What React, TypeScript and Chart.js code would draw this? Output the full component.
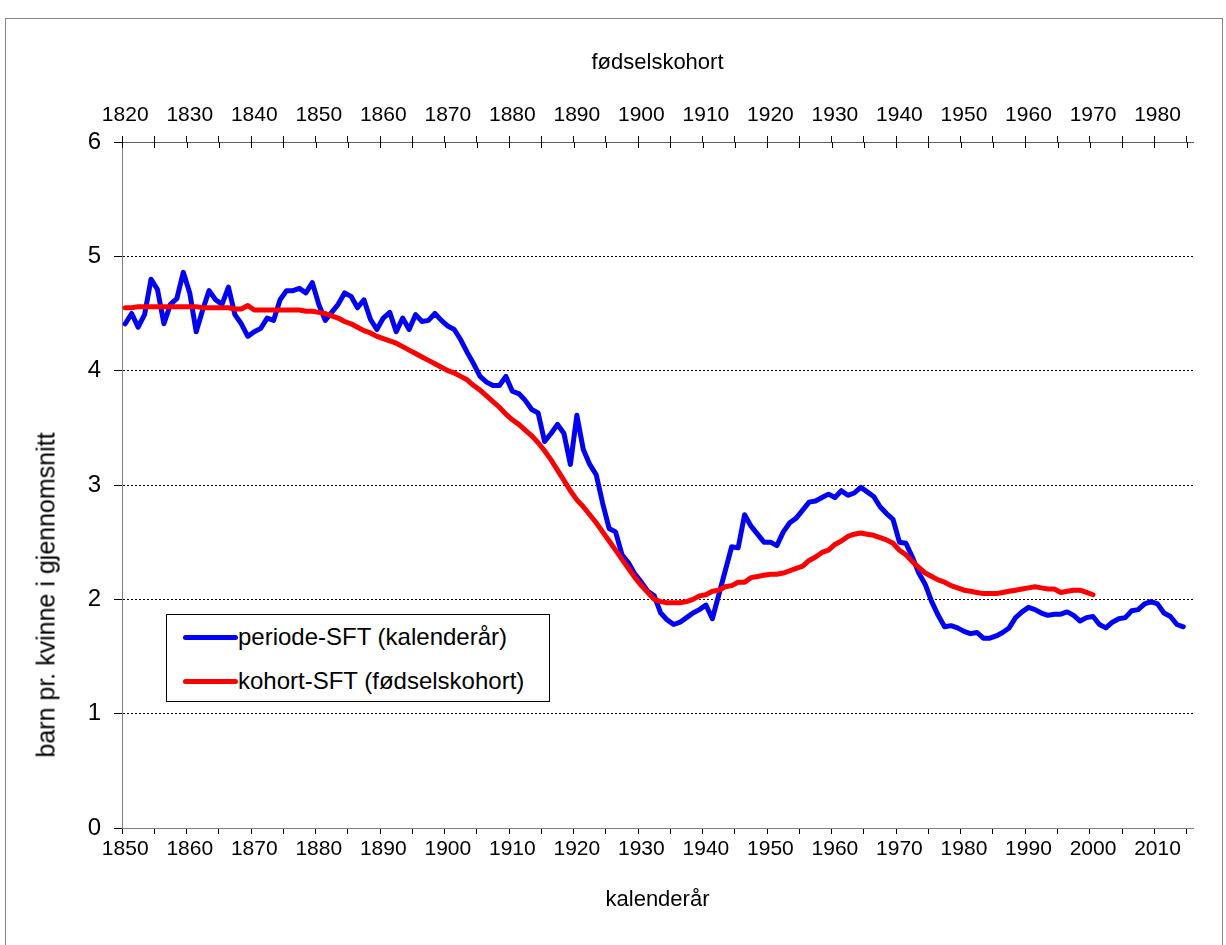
import React, { useEffect, useRef } from "react";
import { Chart, registerables } from "chart.js";

Chart.register(...registerables);

// ---------- data ----------
const FIRST_YEAR = 1850;
const LAST_YEAR = 2015;
const COHORT_OFFSET = 30;

// bottom axis categories (calendar years) and top axis categories (birth cohorts)
const calendarYears: string[] = Array.from(
  { length: LAST_YEAR - FIRST_YEAR + 1 },
  (_, i) => String(FIRST_YEAR + i)
);
const cohortYears: string[] = Array.from(
  { length: LAST_YEAR - FIRST_YEAR + 1 },
  (_, i) => String(FIRST_YEAR - COHORT_OFFSET + i)
);

// periode-SFT, calendar years 1850..2014
const periodTFR: number[] = [
  4.41, 4.5, 4.38, 4.49, 4.8, 4.71, 4.41, 4.58, 4.63, 4.86, // 1850
  4.68, 4.34, 4.53, 4.7, 4.62, 4.58, 4.73, 4.49, 4.41, 4.3, // 1860
  4.34, 4.37, 4.46, 4.44, 4.62, 4.7, 4.7, 4.72, 4.68, 4.77, // 1870
  4.58, 4.44, 4.51, 4.58, 4.68, 4.65, 4.55, 4.62, 4.45, 4.36, // 1880
  4.46, 4.51, 4.34, 4.46, 4.36, 4.49, 4.43, 4.44, 4.5, 4.44, // 1890
  4.39, 4.36, 4.27, 4.16, 4.06, 3.95, 3.9, 3.87, 3.87, 3.95, // 1900
  3.82, 3.8, 3.74, 3.66, 3.63, 3.38, 3.45, 3.53, 3.45, 3.18, // 1910
  3.61, 3.31, 3.18, 3.09, 2.84, 2.62, 2.59, 2.39, 2.32, 2.22, // 1920
  2.15, 2.07, 2.03, 1.88, 1.82, 1.78, 1.8, 1.84, 1.88, 1.91, // 1930
  1.95, 1.83, 2.04, 2.25, 2.46, 2.45, 2.74, 2.64, 2.57, 2.5, // 1940
  2.5, 2.47, 2.59, 2.67, 2.71, 2.78, 2.85, 2.86, 2.89, 2.92, // 1950
  2.89, 2.95, 2.91, 2.93, 2.98, 2.94, 2.9, 2.81, 2.75, 2.7, // 1960
  2.5, 2.49, 2.37, 2.23, 2.13, 1.98, 1.86, 1.76, 1.77, 1.75, // 1970
  1.72, 1.7, 1.71, 1.66, 1.66, 1.68, 1.71, 1.75, 1.84, 1.89, // 1980
  1.93, 1.91, 1.88, 1.86, 1.87, 1.87, 1.89, 1.86, 1.81, 1.84, // 1990
  1.85, 1.78, 1.75, 1.8, 1.83, 1.84, 1.9, 1.91, 1.96, 1.98, // 2000
  1.96, 1.88, 1.85, 1.78, 1.76, // 2010
];

// kohort-SFT, birth cohorts 1820..1970
const cohortTFR: number[] = [
  4.55, 4.55, 4.56, 4.56, 4.56, 4.56, 4.56, 4.56, 4.56, 4.56, // 1820
  4.56, 4.56, 4.55, 4.55, 4.55, 4.55, 4.55, 4.54, 4.54, 4.57, // 1830
  4.53, 4.53, 4.53, 4.53, 4.53, 4.53, 4.53, 4.53, 4.52, 4.52, // 1840
  4.51, 4.5, 4.48, 4.46, 4.43, 4.41, 4.38, 4.35, 4.33, 4.3, // 1850
  4.28, 4.26, 4.24, 4.21, 4.18, 4.15, 4.12, 4.09, 4.06, 4.03, // 1860
  4.0, 3.98, 3.95, 3.92, 3.87, 3.83, 3.78, 3.73, 3.68, 3.62, // 1870
  3.57, 3.53, 3.48, 3.43, 3.37, 3.3, 3.22, 3.13, 3.04, 2.95, // 1880
  2.87, 2.81, 2.74, 2.67, 2.59, 2.51, 2.43, 2.35, 2.27, 2.19, // 1890
  2.12, 2.06, 2.0, 1.98, 1.97, 1.97, 1.97, 1.98, 2.0, 2.03, // 1900
  2.04, 2.07, 2.08, 2.11, 2.12, 2.15, 2.15, 2.19, 2.2, 2.21, // 1910
  2.22, 2.22, 2.23, 2.25, 2.27, 2.29, 2.34, 2.37, 2.41, 2.43, // 1920
  2.48, 2.51, 2.55, 2.57, 2.58, 2.57, 2.56, 2.54, 2.52, 2.49, // 1930
  2.43, 2.39, 2.33, 2.28, 2.23, 2.2, 2.17, 2.15, 2.12, 2.1, // 1940
  2.08, 2.07, 2.06, 2.05, 2.05, 2.05, 2.06, 2.07, 2.08, 2.09, // 1950
  2.1, 2.11, 2.1, 2.09, 2.09, 2.06, 2.07, 2.08, 2.08, 2.06, // 1960
  2.04, // 1970
];

const Y_MIN = 0;
const Y_MAX = 6;
const Y_STEP = 1;

const LABEL_PERIOD = "periode-SFT (kalenderår)";
const LABEL_COHORT = "kohort-SFT (fødselskohort)";
const TITLE_TOP = "fødselskohort";
const TITLE_BOTTOM = "kalenderår";
const TITLE_Y = "barn pr. kvinne i gjennomsnitt";

const FONT = "'Liberation Sans', Arial, Helvetica, sans-serif";
const BLUE = "#0000FF";
const RED = "#FF0000";

// ---------- layout ----------
const W = 1226;
const H = 945;
const PLOT_LEFT = 122;
const PLOT_TOP = 142;
const PLOT_BOTTOM = 828;
const PLOT_RIGHT = 1193;

const TRANSPARENT = "rgba(0,0,0,0)";
const everyFifth = (ctx: any) => (ctx.index % 5 === 0 ? "#000000" : TRANSPARENT);

// draws the inner half of the top axis' crossing tick marks
const crossTicks = {
  id: "crossTicks",
  afterDraw(chart: any) {
    const s = chart.scales.xTop;
    if (!s) return;
    const ctx = chart.ctx;
    const n = s.ticks.length;
    const half = (s.getPixelForTick(1) - s.getPixelForTick(0)) / 2;
    ctx.save();
    ctx.strokeStyle = "#000000";
    ctx.lineWidth = 1;
    for (let i = 0; i <= n; i += 5) {
      const px =
        i < n ? s.getPixelForTick(i) - half : s.getPixelForTick(n - 1) + half;
      const x = Math.round(px) + 0.5;
      ctx.beginPath();
      ctx.moveTo(x, s.bottom);
      ctx.lineTo(x, s.bottom + 6);
      ctx.stroke();
    }
    ctx.restore();
  },
};

export default function App() {
  const canvasRef = useRef<HTMLCanvasElement | null>(null);

  useEffect(() => {
    const canvas = canvasRef.current;
    if (!canvas) return;
    const chart = new Chart(canvas, {
      type: "line",
      data: {
        labels: calendarYears,
        datasets: [
          {
            label: LABEL_COHORT,
            data: cohortTFR,
            xAxisID: "xTop",
            yAxisID: "y",
            borderColor: RED,
            backgroundColor: RED,
            borderWidth: 5,
            pointRadius: 0,
            tension: 0,
            fill: false,
            borderCapStyle: "round",
            borderJoinStyle: "round",
          },
          {
            label: LABEL_PERIOD,
            data: periodTFR,
            xAxisID: "x",
            yAxisID: "y",
            borderColor: BLUE,
            backgroundColor: BLUE,
            borderWidth: 5,
            pointRadius: 0,
            tension: 0,
            fill: false,
            borderCapStyle: "round",
            borderJoinStyle: "round",
          },
        ],
      },
      options: {
        animation: false,
        responsive: false,
        maintainAspectRatio: false,
        events: [],
        layout: { padding: { left: 0, right: W - PLOT_RIGHT, top: 0, bottom: 0 } },
        plugins: {
          legend: { display: false },
          tooltip: { enabled: false },
        },
        scales: {
          x: {
            type: "category",
            position: "bottom",
            offset: true,
            grid: {
              offset: true,
              drawOnChartArea: false,
              drawTicks: true,
              tickLength: 6,
              color: everyFifth,
              tickColor: everyFifth,
              lineWidth: 1,
            },
            border: { display: true, color: "#808080", width: 1 },
            ticks: {
              autoSkip: false,
              maxRotation: 0,
              minRotation: 0,
              padding: 3,
              color: "#000000",
              font: { family: FONT, size: 21 },
              callback: (_v: any, i: number) => (i % 10 === 0 ? calendarYears[i] : ""),
            },
            title: {
              display: true,
              text: TITLE_BOTTOM,
              color: "#000000",
              font: { family: FONT, size: 22 },
              padding: { top: 0, bottom: 32 },
            },
            afterFit: (s: any) => {
              s.height = H - PLOT_BOTTOM;
            },
          },
          xTop: {
            type: "category",
            position: "top",
            labels: cohortYears,
            offset: true,
            grid: {
              offset: true,
              drawOnChartArea: false,
              drawTicks: true,
              tickLength: 6,
              color: everyFifth,
              tickColor: everyFifth,
              lineWidth: 1,
            },
            border: { display: true, color: "#606060", width: 1 },
            ticks: {
              autoSkip: false,
              maxRotation: 0,
              minRotation: 0,
              padding: 8,
              color: "#000000",
              font: { family: FONT, size: 21 },
              callback: (_v: any, i: number) => (i % 10 === 0 ? cohortYears[i] : ""),
            },
            title: {
              display: true,
              text: TITLE_TOP,
              color: "#000000",
              font: { family: FONT, size: 22 },
              padding: { top: 50, bottom: 0 },
            },
            afterFit: (s: any) => {
              s.height = PLOT_TOP;
            },
          },
          y: {
            type: "linear",
            position: "left",
            min: Y_MIN,
            max: Y_MAX,
            ticks: {
              stepSize: Y_STEP,
              padding: 13,
              color: "#000000",
              font: { family: FONT, size: 24 },
            },
            grid: {
              color: (ctx: any) =>
                ctx.tick && (ctx.tick.value === Y_MIN || ctx.tick.value === Y_MAX)
                  ? TRANSPARENT
                  : "#000000",
              tickColor: "#000000",
              tickLength: 8,
              lineWidth: 1,
            },
            border: { display: true, color: "#808080", width: 1, dash: [2, 2] },
            title: { display: false },
            afterFit: (s: any) => {
              s.width = PLOT_LEFT;
            },
          },
        },
      },
      plugins: [crossTicks],
    } as any);
    return () => chart.destroy();
  }, []);

  const legendRow = (color: string, text: string, centerY: number) => (
    <div
      style={{
        position: "absolute",
        left: 0,
        top: centerY - 15,
        height: 30,
        width: "100%",
      }}
    >
      <div
        style={{
          position: "absolute",
          left: 16,
          top: 12.5,
          width: 55,
          height: 5,
          borderRadius: 2.5,
          background: color,
        }}
      />
      <div
        style={{
          position: "absolute",
          left: 71,
          top: 0,
          height: 30,
          lineHeight: "30px",
          fontSize: 24,
          whiteSpace: "nowrap",
          color: "#000",
        }}
      >
        {text}
      </div>
    </div>
  );

  return (
    <div
      style={{
        position: "absolute",
        left: 0,
        top: 0,
        width: W,
        height: H,
        overflow: "hidden",
        background: "#ffffff",
        fontFamily: FONT,
      }}
    >
      <div
        style={{
          position: "absolute",
          left: 5,
          top: 18,
          width: 1216,
          height: 1000,
          border: "1px solid #868686",
        }}
      />
      <canvas
        ref={canvasRef}
        width={W}
        height={H}
        style={{ position: "absolute", left: 0, top: 0, width: W, height: H }}
      />
      <div
        style={{
          position: "absolute",
          left: 46,
          top: 595,
          transform: "translate(-50%, -50%) rotate(-90deg)",
          whiteSpace: "nowrap",
          fontSize: 25,
          color: "#000",
        }}
      >
        {TITLE_Y}
      </div>
      <div
        style={{
          position: "absolute",
          left: 166,
          top: 614,
          width: 384,
          height: 88,
          boxSizing: "border-box",
          border: "1px solid #000",
          background: "#ffffff",
        }}
      >
        {legendRow(BLUE, LABEL_PERIOD, 22)}
        {legendRow(RED, LABEL_COHORT, 66)}
      </div>
    </div>
  );
}
